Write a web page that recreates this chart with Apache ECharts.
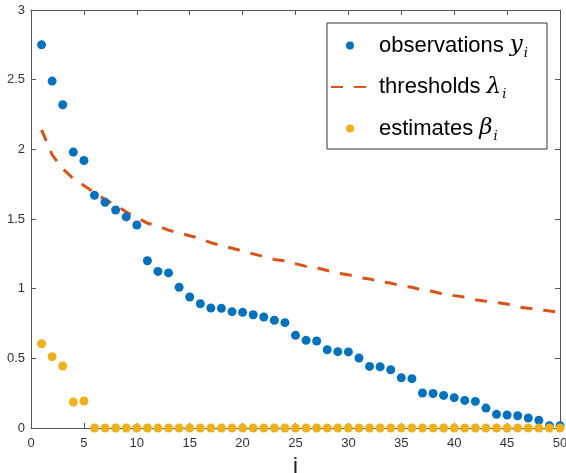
<!DOCTYPE html>
<html><head><meta charset="utf-8">
<script src="https://cdn.jsdelivr.net/npm/echarts@6/dist/echarts.min.js"></script>
<style>html,body{margin:0;padding:0;background:#fff}#c{width:566px;height:473px}</style>
</head><body><div id="c"></div>
<script>
const idx = Array.from({length: 50}, (_, k) => k + 1);
const observations = [2.75,2.49,2.32,1.98,1.92,1.67,1.62,1.565,1.515,1.457,
  1.20,1.124,1.113,1.01,0.94,0.892,0.861,0.859,0.835,0.83,
  0.813,0.797,0.773,0.756,0.665,0.629,0.624,0.562,0.548,0.546,
  0.502,0.442,0.44,0.418,0.361,0.354,0.251,0.248,0.234,0.218,
  0.198,0.191,0.143,0.098,0.093,0.088,0.072,0.055,0.017,0.017];
const thresholds = [2.14,1.96,1.86,1.79,1.74,1.69,1.64,1.60,1.55,1.51,
  1.47,1.45,1.42,1.40,1.38,1.36,1.33,1.31,1.29,1.27,
  1.25,1.23,1.21,1.20,1.18,1.16,1.15,1.13,1.11,1.10,
  1.08,1.07,1.05,1.04,1.02,1.01,0.99,0.98,0.96,0.95,
  0.94,0.92,0.91,0.90,0.89,0.87,0.86,0.85,0.84,0.83];
const estimates = [0.605,0.512,0.445,0.187,0.194,0,0,0,0,0,
  0,0,0,0,0,0,0,0,0,0, 0,0,0,0,0,0,0,0,0,0,
  0,0,0,0,0,0,0,0,0,0, 0,0,0,0,0,0,0,0,0,0];
const xTicks = [0,5,10,15,20,25,30,35,40,45,50];
const yTicks = [0,0.5,1,1.5,2,2.5,3];

const font = "'Liberation Sans', Arial, sans-serif";
const axisColor = '#555555';
const pair = a => idx.map((x, k) => [x, a[k]]);
const chart = echarts.init(document.getElementById('c'), null, {renderer: 'canvas'});
const common = () => ({min: 0, axisLine: {show: true, onZero: false, lineStyle: {color: axisColor, width: 1}},
  axisTick: {show: true, inside: true, length: 5, lineStyle: {color: axisColor, width: 1}},
  splitLine: {show: false}});
const rich = {
  t: {fontSize: 22, fontFamily: font, color: '#000'},
  v: {fontSize: 23, fontFamily: 'DejaVu Serif, serif', fontStyle: 'italic', color: '#000'},
  s: {fontSize: 13, fontFamily: 'DejaVu Serif, serif', fontStyle: 'italic', color: '#000', padding: [16, 0, 0, 1]}
};
const sym = {'observations': ['y','i'], 'thresholds': ['λ','i'], 'estimates': ['β','i']};
chart.setOption({
  animation: false,
  grid: {left: 31, right: 6, top: 10, bottom: 45, containLabel: false, outerBoundsMode: 'none'},
  xAxis: [
    Object.assign(common(), {type: 'value', max: 50, interval: 5, position: 'bottom',
      name: 'i', nameLocation: 'middle', nameGap: 25,
      nameTextStyle: {fontSize: 24, fontFamily: font, color: '#262626'},
      axisLabel: {fontSize: 13, fontFamily: font, color: '#333', margin: 9}}),
    Object.assign(common(), {type: 'value', max: 50, interval: 5, position: 'top',
      axisLabel: {show: false}})
  ],
  yAxis: [
    Object.assign(common(), {type: 'value', max: 3, interval: 0.5, position: 'left',
      axisLabel: {fontSize: 13, fontFamily: font, color: '#333', margin: 6}}),
    Object.assign(common(), {type: 'value', max: 3, interval: 0.5, position: 'right',
      axisLabel: {show: false}})
  ],
  legend: {
    orient: 'vertical', left: 327, top: 23,
    padding: [11, 19, 6, 3], itemGap: 15.5,
    itemWidth: 38, itemHeight: 8,
    backgroundColor: '#fff', borderColor: '#333', borderWidth: 1,
    textStyle: {rich: rich, padding: [0, 0, 0, 5]},
    formatter: name => `{t|${name} }{v|${sym[name][0]}}{s|${sym[name][1]}}`,
    data: [
      {name: 'observations', icon: 'circle'},
      {name: 'thresholds', itemStyle: {opacity: 0}},
      {name: 'estimates', icon: 'circle'}
    ]
  },
  series: [
    {name: 'observations', type: 'scatter', data: pair(observations), symbolSize: 9,
      itemStyle: {color: '#0072BD', opacity: 1}, clip: false, z: 3},
    {name: 'thresholds', type: 'line', data: pair(thresholds), symbol: 'none', showSymbol: false,
      lineStyle: {color: '#D95319', width: 3, type: [12, 11]}, itemStyle: {color: '#D95319'}, z: 2},
    {name: 'estimates', type: 'scatter', data: pair(estimates), symbolSize: 9,
      itemStyle: {color: '#EDB120', opacity: 1}, clip: false, z: 4}
  ]
});
</script></body></html>
